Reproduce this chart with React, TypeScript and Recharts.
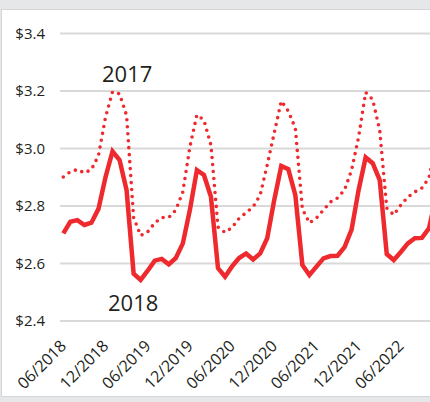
import React from 'react'
import { LineChart, Line, XAxis, YAxis, CartesianGrid } from 'recharts'

const months = [
  '06/2018', '07/2018', '08/2018', '09/2018', '10/2018', '11/2018', '12/2018',
  '01/2019', '02/2019', '03/2019', '04/2019', '05/2019', '06/2019', '07/2019',
  '08/2019', '09/2019', '10/2019', '11/2019', '12/2019', '01/2020', '02/2020',
  '03/2020', '04/2020', '05/2020', '06/2020', '07/2020', '08/2020', '09/2020',
  '10/2020', '11/2020', '12/2020', '01/2021', '02/2021', '03/2021', '04/2021',
  '05/2021', '06/2021', '07/2021', '08/2021', '09/2021', '10/2021', '11/2021',
  '12/2021', '01/2022', '02/2022', '03/2022', '04/2022', '05/2022', '06/2022',
  '07/2022', '08/2022', '09/2022', '10/2022', '11/2022', '12/2022',
]

// dotted series
const series2017 = [
  2.901, 2.919, 2.927, 2.915, 2.927, 2.975, 3.108, 3.197, 3.19, 3.115, 2.76,
  2.697, 2.71, 2.741, 2.76, 2.76, 2.786, 2.849, 3.005, 3.117, 3.099, 3.012,
  2.727, 2.708, 2.725, 2.757, 2.777, 2.797, 2.838, 2.943, 3.054, 3.165, 3.13,
  3.071, 2.79, 2.741, 2.758, 2.786, 2.814, 2.828, 2.856, 2.925, 3.04, 3.195,
  3.17, 3.064, 2.793, 2.769, 2.803, 2.831, 2.849, 2.863, 2.897, 3.01, 3.12,
]

// solid series
const series2018 = [
  2.705, 2.745, 2.751, 2.734, 2.742, 2.79, 2.9, 2.99, 2.96, 2.855, 2.565,
  2.543, 2.575, 2.61, 2.616, 2.597, 2.619, 2.67, 2.786, 2.925, 2.908, 2.832,
  2.584, 2.554, 2.59, 2.619, 2.635, 2.614, 2.635, 2.688, 2.821, 2.939, 2.928,
  2.838, 2.595, 2.56, 2.589, 2.618, 2.626, 2.627, 2.657, 2.718, 2.856, 2.969,
  2.949, 2.89, 2.633, 2.612, 2.64, 2.67, 2.688, 2.689, 2.722, 2.83, 2.95,
]

const xTicks = [
  '06/2018', '12/2018', '06/2019', '12/2019', '06/2020',
  '12/2020', '06/2021', '12/2021', '06/2022',
]
const yTicks = [2.4, 2.6, 2.8, 3.0, 3.2, 3.4]

const data = months.map((m, i) => ({ month: m, y2017: series2017[i], y2018: series2018[i] }))

const RED = '#ee2a2e'
const INK = '#231f20'
const FONT = '"Open Sans", sans-serif'

function XTick({ x, y, payload }: any) {
  const tx = x + 4
  const ty = y + 26
  return (
    <text
      x={tx}
      y={ty}
      textAnchor="end"
      transform={`rotate(-45 ${tx} ${ty})`}
      fill={INK}
      fontSize={16}
      fontFamily={FONT}
    >
      {payload.value}
    </text>
  )
}

function YTick({ x, y, payload }: any) {
  return (
    <text x={x} y={y} dy="0.35em" textAnchor="end" fill={INK} fontSize={15} fontFamily={FONT}>
      {'$' + Number(payload.value).toFixed(1)}
    </text>
  )
}

export default function App() {
  return (
    <div
      style={{
        position: 'fixed',
        left: 0,
        top: 0,
        width: 430,
        height: 402,
        overflow: 'hidden',
        background: '#e6e7e8',
        fontFamily: FONT,
      }}
    >
      <div
        style={{
          position: 'absolute',
          left: 1,
          top: 9,
          width: 460,
          height: 386,
          background: '#fff',
          border: '1px solid #d4d5d7',
        }}
      />
      <div style={{ position: 'absolute', left: 0, top: 0 }}>
        <LineChart
          width={443}
          height={402}
          data={data}
          margin={{ top: 33.5, right: 0, bottom: 11, left: 0 }}
        >
          <CartesianGrid vertical={false} stroke="#d9d9d9" strokeWidth={2} />
          <XAxis
            dataKey="month"
            ticks={xTicks}
            interval={0}
            axisLine={false}
            tickLine={false}
            tickSize={0}
            tickMargin={0}
            height={70}
            padding={{ left: 3.3, right: 0 }}
            tick={<XTick />}
          />
          <YAxis
            domain={[2.4, 3.4]}
            ticks={yTicks}
            width={60}
            axisLine={false}
            tickLine={false}
            tickSize={0}
            tickMargin={15}
            tick={<YTick />}
          />
          <Line
            dataKey="y2017"
            stroke={RED}
            strokeWidth={3.6}
            strokeDasharray="0 7"
            strokeLinecap="round"
            dot={false}
            activeDot={false}
            isAnimationActive={false}
          />
          <Line
            dataKey="y2018"
            stroke={RED}
            strokeWidth={4.5}
            dot={false}
            activeDot={false}
            isAnimationActive={false}
          />
        </LineChart>
      </div>
      <div style={{ position: 'absolute', left: 102, top: 58, fontSize: 22, color: INK, lineHeight: '30px' }}>2017</div>
      <div style={{ position: 'absolute', left: 108, top: 287, fontSize: 22, color: INK, lineHeight: '30px' }}>2018</div>
    </div>
  )
}
